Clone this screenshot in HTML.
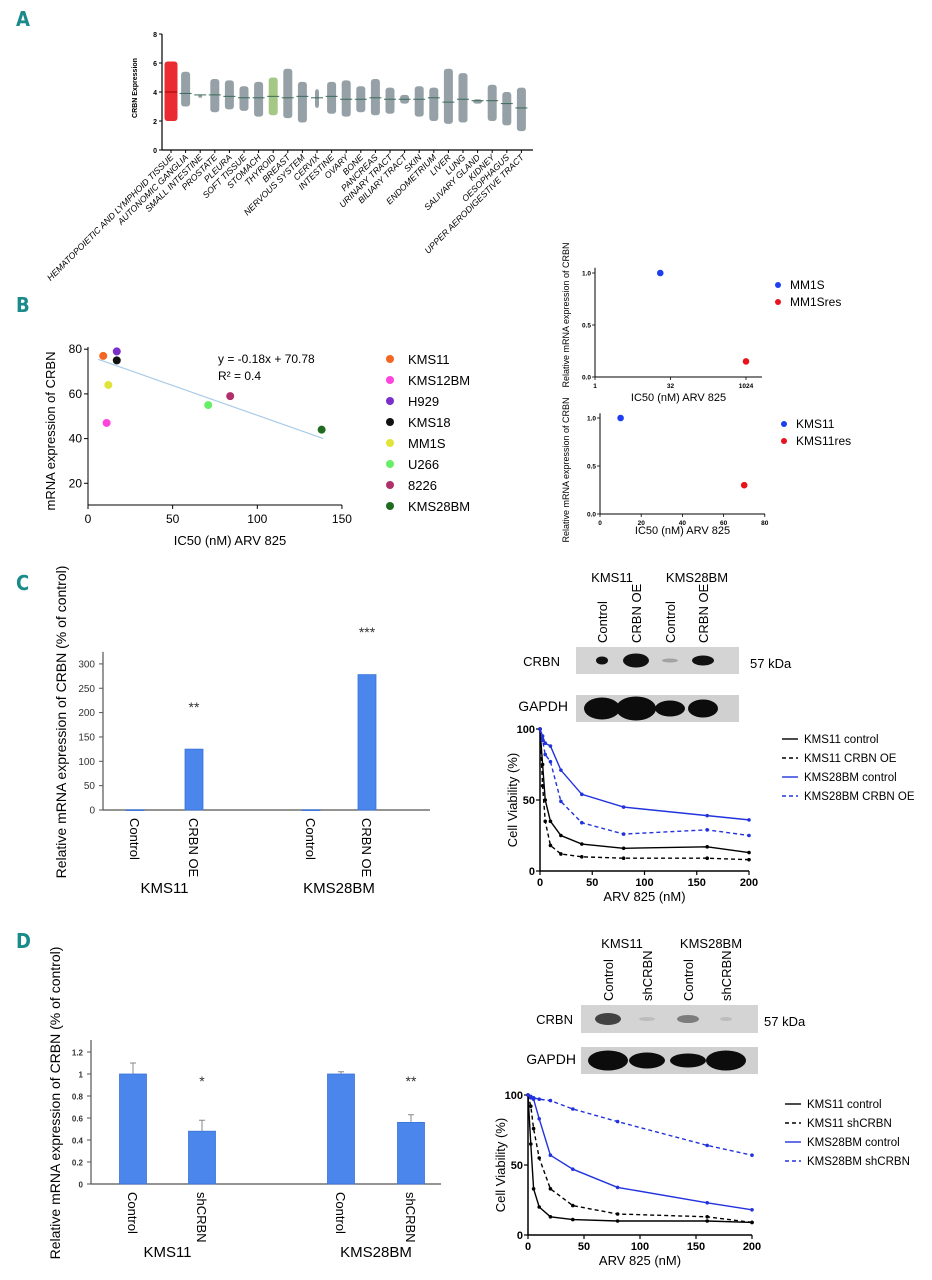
<!DOCTYPE html>
<html><head><meta charset="utf-8">
<style>
html,body{margin:0;padding:0;background:#fff;}
svg{display:block;font-family:"Liberation Sans",Arial,sans-serif;}
.pl{font-family:"DejaVu Sans Condensed","Liberation Sans",sans-serif;font-weight:bold;fill:#1a8a8a;font-size:20px;}
</style></head>
<body>
<svg id="fig" width="932" height="1280" viewBox="0 0 932 1280" xmlns="http://www.w3.org/2000/svg">
<text class="pl" x="16" y="26">A</text>
<text class="pl" x="16" y="312">B</text>
<text class="pl" x="16" y="590">C</text>
<text class="pl" x="16" y="948">D</text>
<g id="pa"></g>
<g id="pb1"></g>
<g id="pb2"></g>
<g id="pb3"></g>
<g id="pc1"></g>
<g id="pc2"></g>
<g id="pc3"></g>
<g id="pd1"></g>
<g id="pd2"></g>
<g id="pd3"></g>
</svg>
<script>
// ===== Panel A data =====
const tissues=["HEMATOPOIETIC AND LYMPHOID TISSUE","AUTONOMIC GANGLIA","SMALL INTESTINE","PROSTATE","PLEURA","SOFT TISSUE","STOMACH","THYROID","BREAST","NERVOUS SYSTEM","CERVIX","INTESTINE","OVARY","BONE","PANCREAS","URINARY TRACT","BILIARY TRACT","SKIN","ENDOMETRIUM","LIVER","LUNG","SALIVARY GLAND","KIDNEY","OESOPHAGUS","UPPER AERODIGESTIVE TRACT"];
const tissueMin=[2.0,3.0,3.8,2.6,2.8,2.7,2.3,2.4,2.2,1.9,2.9,2.5,2.3,2.6,2.4,2.5,3.2,2.3,2.0,1.8,1.9,3.2,2.0,1.7,1.3];
const tissueMax=[6.1,5.4,3.8,4.9,4.8,4.4,4.7,5.0,5.6,4.7,4.2,4.7,4.8,4.4,4.9,4.3,3.8,4.4,4.3,5.6,5.3,3.5,4.5,4.0,4.3];
const tissueMed=[4.0,3.9,3.8,3.8,3.7,3.6,3.6,3.7,3.6,3.7,3.6,3.7,3.5,3.5,3.6,3.5,3.5,3.5,3.6,3.3,3.5,3.4,3.4,3.2,2.9];
const aTicks=[0,2,4,6,8];
// ===== Panel B data =====
const lines=["KMS11","KMS12BM","H929","KMS18","MM1S","U266","8226","KMS28BM"];
const lineColors=["#f26522","#ff44dd","#7a2fc8","#111111","#e0e43a","#66ee66","#b0306a","#1f6b1f"];
const ic50=[9,11,17,17,12,71,84,138];
const crbnExpr=[77,47,79,75,64,55,59,44];
const bTicksX=[0,50,100,150];
const bTicksY=[20,40,60,80];
const mmIC50=[20,1024]; const mmRel=[1.0,0.15]; const mmNames=["MM1S","MM1Sres"];
const kmsIC50=[10,70]; const kmsRel=[1.0,0.3]; const kmsNames=["KMS11","KMS11res"];
// ===== Panel C/D data =====
const cCats=["Control","CRBN OE","Control","CRBN OE"];
const cVals=[0.5,125,0.5,278];
const cTicks=[0,50,100,150,200,250,300];
const dCats=["Control","shCRBN","Control","shCRBN"];
const dVals=[1.0,0.48,1.0,0.56];
const dErr=[0.1,0.1,0.02,0.07];
const dTicks=["0","0.2","0.4","0.6","0.8","1","1.2"];
const doses=[0,2.5,5,10,20,40,80,160,200];
const cNames=["KMS11 control","KMS11 CRBN OE","KMS28BM control","KMS28BM CRBN OE"];
const cK11=[100,75,50,35,25,19,16,17,13];
const cK11oe=[100,60,35,18,12,10,9,9,8];
const cK28=[100,95,90,88,71,54,45,39,36];
const cK28oe=[100,92,82,77,49,34,26,29,25];
const dNames=["KMS11 control","KMS11 shCRBN","KMS28BM control","KMS28BM shCRBN"];
const dK11=[100,65,33,20,13,11,10,10,9];
const dK11sh=[100,92,76,55,33,21,15,13,9];
const dK28=[100,99,97,83,57,47,34,23,18];
const dK28sh=[100,98,98,97,96,90,81,64,57];
const vTicks=[0,50,100,150,200];
const vTicksY=[0,50,100];

const NS="http://www.w3.org/2000/svg";
function mk(t,a,p){const e=document.createElementNS(NS,t);for(const k in a)e.setAttribute(k,a[k]);p.appendChild(e);return e;}
function txt(s,a,p){const e=mk('text',a,p);e.textContent=s;return e;}

// ---------- Panel A ----------
(function(){
const g=document.getElementById('pa');
const ax=162,y0=150,sy=14.5,x0=171,dx=14.6;
const Y=v=>y0-v*sy, X=i=>x0+i*dx;
let e=mk('line',{x1:ax,y1:Y(8),x2:ax,y2:y0,stroke:'#000','stroke-width':1.2},g);


e=mk('line',{x1:ax,y1:y0,x2:533,y2:y0,stroke:'#000','stroke-width':1.2},g);


aTicks.forEach(t=>{
 mk('line',{x1:ax-3,x2:ax,y1:Y(t),y2:Y(t),stroke:'#000'},g);
 const l=txt(t,{x:ax-5,y:Y(t)+3,'font-size':7,'font-weight':'bold','text-anchor':'end'},g);
 
 
});
e=txt('CRBN Expression',{transform:`translate(137,88) rotate(-90)`,'font-size':7,'font-weight':'bold','text-anchor':'middle'},g);


tissues.forEach((n,i)=>{
 const col=i===0?'#e8141c':(i===7?'#9bc27a':'#8a979c');
 const w=i===0?13:(i===2||i===10?4:9);
 const r=mk('rect',{x:X(i)-w/2,y:Y(tissueMax[i]),width:w,height:Math.max(3,(tissueMax[i]-tissueMin[i])*sy),rx:3,fill:col,opacity:0.9},g);
 
 
 const m=mk('line',{x1:X(i)-6,x2:X(i)+6,y1:Y(tissueMed[i]),y2:Y(tissueMed[i]),stroke:i===0?'#900':'#3a6a5a','stroke-width':1},g);
 
 
 mk('line',{x1:X(i),x2:X(i),y1:y0,y2:y0+3,stroke:'#000'},g);
 const l=txt(n,{transform:`translate(${X(i)+3},${y0+8}) rotate(-45)`,'font-size':8.8,'font-style':'italic','text-anchor':'end'},g);
 
 
});
})();

// ---------- Panel B correlation ----------
(function(){
const g=document.getElementById('pb1');
const X=v=>88+v*1.693, Y=v=>528-v*2.235;
let e=mk('path',{d:`M${X(0)},${Y(81)}V${Y(10.3)}H${X(150)}`,stroke:'#000',fill:'none','stroke-width':1},g);


bTicksX.forEach(t=>{mk('line',{x1:X(t),x2:X(t),y1:Y(10.3),y2:Y(10.3)+4,stroke:'#000'},g);
 const l=txt(t,{x:X(t),y:Y(10.3)+18,'font-size':12,'text-anchor':'middle'},g);
 
 });
bTicksY.forEach(t=>{mk('line',{x1:X(0)-4,x2:X(0),y1:Y(t),y2:Y(t),stroke:'#000'},g);
 const l=txt(t,{x:X(0)-6,y:Y(t)+4,'font-size':12,'text-anchor':'end'},g);
 
 });
e=txt('IC50 (nM) ARV 825',{x:230,y:545,'font-size':13,'text-anchor':'middle'},g);


e=txt('mRNA expression of CRBN',{transform:'translate(55,431) rotate(-90)','font-size':13,'text-anchor':'middle'},g);


e=mk('line',{x1:X(6),y1:Y(75.5),x2:X(139),y2:Y(40),stroke:'#a9cbe8','stroke-width':1.2},g);


e=txt('y = -0.18x + 70.78',{x:218,y:363,'font-size':12},g);


e=txt('R² = 0.4',{x:218,y:380,'font-size':12},g);


lines.forEach((n,i)=>{
 const c=mk('circle',{cx:X(ic50[i]),cy:Y(crbnExpr[i]),r:4,fill:lineColors[i]},g);
 
 
 const ly=359+i*21;
 const d=mk('circle',{cx:390,cy:ly,r:4,fill:lineColors[i]},g);
 
 
 const t=txt(n,{x:408,y:ly+5,'font-size':13},g);
 
 
});
})();

// ---------- Panel B small charts ----------
function smallChart(id,X,Y,xt,yl,xs,ys,names,legX,legY,titleY){
const g=document.getElementById(id);
const colors=['#1e3ef0','#e8141c'];
let e=mk('path',{d:`M${X.x0},${Y(1.05)}V${Y(0)}H${X.x1}`,stroke:'#000',fill:'none','stroke-width':1},g);


[0,0.5,1].forEach(t=>{mk('line',{x1:X.x0-3,x2:X.x0,y1:Y(t),y2:Y(t),stroke:'#000','stroke-width':0.8},g);
 const l=txt(t.toFixed(1),{x:X.x0-4,y:Y(t)+2.5,'font-size':6.5,'font-weight':'bold','text-anchor':'end'},g);
 
 });
xt.forEach(t=>{mk('line',{x1:X.f(t),x2:X.f(t),y1:Y(0),y2:Y(0)+3,stroke:'#000','stroke-width':0.8},g);
 const l=txt(t,{x:X.f(t),y:Y(0)+11,'font-size':6.5,'font-weight':'bold','text-anchor':'middle'},g);
 
 });
e=txt('IC50 (nM) ARV 825',{x:(X.x0+X.x1)/2,y:titleY,'font-size':11,'text-anchor':'middle'},g);


e=txt(yl.t,{transform:`translate(${yl.x},${yl.y}) rotate(-90)`,'font-size':9,'text-anchor':'middle'},g);


xs.forEach((v,i)=>{
 const c=mk('circle',{cx:X.f(v),cy:Y(ys[i]),r:3.3,fill:colors[i]},g);
 
 
 const d=mk('circle',{cx:legX,cy:legY+i*17,r:3,fill:colors[i]},g);
 
 
 const t=txt(names[i],{x:legX+12,y:legY+i*17+4,'font-size':12},g);
 
 
});
}
smallChart('pb2',{x0:595,x1:762,f:v=>595+Math.log2(v)*15.1},v=>377-v*104,[1,32,1024],
 {t:'Relative mRNA expression of CRBN',x:569,y:315},mmIC50,mmRel,mmNames,778,285,401);
smallChart('pb3',{x0:600,x1:765,f:v=>600+v*2.06},v=>514-v*96,[0,20,40,60,80],
 {t:'Relative mRNA expression of CRBN',x:569,y:470},kmsIC50,kmsRel,kmsNames,784,424,534);

// ---------- Bar charts ----------
function barChart(id,ax,y0,sy,right,xs,vals,err,cats,ticks,tickVals,stars,starY,ylab,groupY,prefix,w){
const g=document.getElementById(id);
const Y=v=>y0-v*sy;
let e=mk('path',{d:`M${ax},${Y(tickVals[tickVals.length-1])-12}V${y0}H${right}`,stroke:'#555',fill:'none','stroke-width':1.2},g);


ticks.forEach((t,i)=>{mk('line',{x1:ax-4,x2:ax,y1:Y(tickVals[i]),y2:Y(tickVals[i]),stroke:'#555'},g);
 const l=txt(t,{x:ax-8,y:Y(tickVals[i])+3.5,'font-size':prefix==='d'?8:10,'font-weight':prefix==='d'?'bold':'normal',fill:'#333','text-anchor':'end'},g);
 
 });
vals.forEach((v,i)=>{
 const r=mk('rect',{x:xs[i]-w/2,y:Y(v),width:w,height:Math.max(0.8,v*sy),fill:'#4a86ec',stroke:'#3a74d8','stroke-width':0.8},g);
 
 
 if(err){const er=mk('path',{d:`M${xs[i]},${Y(v)}V${Y(v+err[i])}M${xs[i]-3},${Y(v+err[i])}H${xs[i]+3}`,stroke:'#888','stroke-width':1},g);
 
 }
 const l=txt(cats[i],{transform:`translate(${xs[i]-5},${y0+8}) rotate(90)`,'font-size':13},g);
 
 
 if(stars[i]){const s=txt(stars[i],{x:xs[i],y:starY[i],'font-size':14,'text-anchor':'middle',fill:'#333'},g);
 
 }
});
e=txt('KMS11',{x:(xs[0]+xs[1])/2,y:groupY,'font-size':15,'text-anchor':'middle'},g);


e=txt('KMS28BM',{x:(xs[2]+xs[3])/2,y:groupY,'font-size':15,'text-anchor':'middle'},g);


e=txt('Relative mRNA expression of CRBN (% of control)',{transform:`translate(${ylab.x},${ylab.y}) rotate(-90)`,'font-size':14,'text-anchor':'middle'},g);


}
barChart('pc1',103,810,0.487,430,[135,194,311,367],cVals,null,cCats,cTicks.map(String),cTicks,
 [null,'**',null,'***'],[0,712,0,637],{x:66,y:722},893,'c',18);
barChart('pd1',91,1184,110,441,[133,202,341,411],dVals,dErr,dCats,dTicks,dTicks.map(Number),
 [null,'*',null,'**'],[0,1086,0,1086],{x:60,y:1103},1257,'d',27);

// ---------- Blots ----------
function blot(id,bx,by1,bh1,by2,bh2,bw,lanes,laneX,heads,headX,headY,c1,c2,kdaX,bandsA,bandsB,prefix,laneBottom){
const g=document.getElementById(id);
let e=mk('rect',{x:bx,y:by1,width:bw,height:bh1,fill:'#d4d4d4'},g);


e=mk('rect',{x:bx,y:by2,width:bw,height:bh2,fill:'#d0d0d0'},g);


laneX.forEach((x,i)=>{
 const a=mk('ellipse',{cx:x,cy:by1+bh1/2,rx:bandsA[i][0],ry:bandsA[i][1],fill:'#111',opacity:bandsA[i][2]},g);
 
 
 const b=mk('ellipse',{cx:x,cy:by2+bh2/2,rx:bandsB[i][0],ry:bandsB[i][1],fill:'#0c0c0c'},g);
 
 
 const l=txt(lanes[i],{transform:`translate(${x+5},${laneBottom}) rotate(-90)`,'font-size':13},g);
 
 
});
heads.forEach((h,i)=>{const t=txt(h,{x:headX[i],y:headY,'font-size':13,'text-anchor':'middle'},g);
 
 });
e=txt('CRBN',{x:c1.x,y:c1.y,'font-size':13,'text-anchor':'end'},g);


e=txt('GAPDH',{x:c2.x,y:c2.y,'font-size':14,'text-anchor':'end'},g);


e=txt('57 kDa',{x:kdaX,y:c1.y+2,'font-size':13},g);


}
blot('pc2',576,647,27,695,27,163,["Control","CRBN OE","Control","CRBN OE"],[602,636,670,703],
 ["KMS11","KMS28BM"],[612,697],582,{x:560,y:666},{x:568,y:711},750,
 [[6,4,1],[13,7,1],[8,2,0.25],[11,5,1]],[[18,11],[20,12],[15,8],[15,9]],'c',643);
blot('pd2',581,1005,28,1047,27,177,["Control","shCRBN","Control","shCRBN"],[608,647,688,726],
 ["KMS11","KMS28BM"],[622,711],948,{x:573,y:1024},{x:576,y:1064},764,
 [[13,6,0.75],[8,2,0.12],[11,4,0.45],[6,2,0.12]],[[20,10],[18,8],[18,7],[20,10]],'d',1001);

// ---------- Viability charts ----------
function viab(id,x0,x1,y0,y1,series,names,legX,legY,prefix){
const g=document.getElementById(id);
const X=v=>x0+v*(x1-x0)/200, Y=v=>y0-v*(y0-y1)/100;
let e=mk('path',{d:`M${x0},${Y(100)}V${y0}H${x1}`,stroke:'#000',fill:'none','stroke-width':1.5},g);


vTicks.forEach(t=>{mk('line',{x1:X(t),x2:X(t),y1:y0,y2:y0+4,stroke:'#000','stroke-width':1.2},g);
 const l=txt(t,{x:X(t),y:y0+15,'font-size':11,'font-weight':'bold','text-anchor':'middle'},g);
 
 });
vTicksY.forEach(t=>{mk('line',{x1:x0-4,x2:x0,y1:Y(t),y2:Y(t),stroke:'#000','stroke-width':1.2},g);
 const l=txt(t,{x:x0-5,y:Y(t)+4,'font-size':11,'font-weight':'bold','text-anchor':'end'},g);
 
 });
e=txt('ARV 825 (nM)',{x:(x0+x1)/2,y:y0+30,'font-size':13,'text-anchor':'middle'},g);


e=txt('Cell Viability (%)',{transform:`translate(${x0-23},${(y0+y1)/2}) rotate(-90)`,'font-size':13,'text-anchor':'middle'},g);


const st=[['#000',''],['#000','4,3'],['#2233dd',''],['#2233dd','4,3']];
series.forEach((s,k)=>{
 const p=mk('polyline',{points:s.map((v,i)=>X(doses[i])+','+Y(v)).join(' '),fill:'none',stroke:st[k][0],'stroke-width':1.4,'stroke-dasharray':st[k][1]},g);
 
 
 s.forEach((v,i)=>{const m=mk('circle',{cx:X(doses[i]),cy:Y(v),r:1.8,fill:st[k][0]},g);
  
  });
 const ly=legY+k*19;
 const lm=mk('line',{x1:legX,x2:legX+16,y1:ly,y2:ly,stroke:st[k][0],'stroke-width':1.4,'stroke-dasharray':st[k][1]},g);
 
 
 const lt=txt(names[k],{x:legX+22,y:ly+4,'font-size':11.5},g);
 
 
});
}
viab('pc3',540,749,871,729,[cK11,cK11oe,cK28,cK28oe],cNames,782,739,'c');
viab('pd3',528,752,1235,1095,[dK11,dK11sh,dK28,dK28sh],dNames,785,1104,'d');
</script>
</body></html>
